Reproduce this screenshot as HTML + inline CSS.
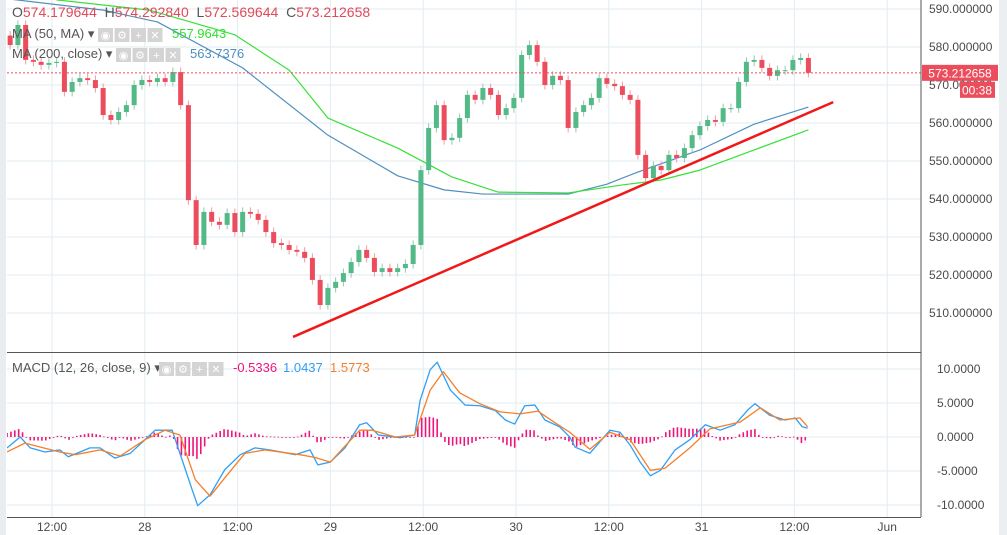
<!DOCTYPE html>
<html><head><meta charset="utf-8"><style>
html,body{margin:0;padding:0;background:#fff;width:1007px;height:535px;overflow:hidden;font-family:"Liberation Sans",sans-serif}
svg{display:block}
</style></head><body>
<svg id="c" width="1007" height="535" xmlns="http://www.w3.org/2000/svg"></svg>
<script>
// ---- data ----
const closes=[580.5,585.8,576.6,576.1,575.3,575.8,576.1,568.2,570.8,571.8,571.3,569.2,562.1,560.8,562.9,564.7,570,571.3,570.8,571.8,570.8,573.4,564.7,539.7,527.9,536.6,534,533.2,536.3,531.3,536.6,536.1,534.5,531.3,528.4,527.9,526.6,526.1,524.5,518.7,512.1,516.6,518.2,520.5,523.4,526.6,524.5,520.8,521.8,520.8,521.8,522.9,527.9,547.6,558.7,564.7,555.5,556.1,561.3,567.4,566.1,569.2,567.4,562.1,563.9,566.6,577.9,580.5,576.1,570,572.4,571.3,558.7,562.9,564.7,566.6,571.8,570.3,569.7,567.4,566.1,551.6,545.5,548.7,547.6,551.6,550.8,553.4,556.8,559.2,560.8,560.3,563.9,563.9,570.8,576.1,576.6,574.5,572.4,573.9,573.9,576.6,577.1,573.2];
const firstOpen=583.0;
const ma200H=[-5.4,6.6,13.6,24.6,35.6,44.6,50.6,55.6,66.6,71.6,75.6,83.6,90.6,97.6];
const ma200V=[592.6,589.7,586.6,574.5,556.8,546.1,542.4,541.3,541.3,543.9,547.1,552.9,559.7,564.2];
const ma50H=[-5.4,0.6,12.6,23.6,30.6,35.6,44.6,51.6,57.6,66.6,73.6,78.6,83.6,90.6,97.6];
const ma50V=[600.3,592.4,589.7,583.2,573.9,561.3,553.4,545.8,541.8,541.6,543.7,545,547.6,552.9,558.2];
const macdH=[-5.8,-4.1,-2.8,-0.9,1,2.1,4.9,6.2,8.1,10.1,12,13.3,15.5,16.8,18.1,18.8,20.4,22.3,24.3,26.2,28.1,31.4,33.3,34.3,35.9,37.8,39.7,40.6,42.1,44.9,46.8,47.5,48.8,49.7,51.4,53.3,55.2,57.2,58.5,59.7,61,62.3,63.6,65.5,66.8,67.5,69.4,72,73.3,74.6,75.9,77.2,78.5,80.4,82.3,84.3,86.2,88.1,89.8,90.7,92.6,94.6,95.9,96.8,97.5];
const macdV=[-1.6,0,-1.6,-2.2,-1.9,-2.9,-1.6,-1.6,-3.1,-2.4,-0.4,1,1,-3.4,-7.8,-10.1,-8.5,-4.8,-2.6,-1.6,-1.9,-2.6,-1.9,-4.1,-3.7,-1.6,1.8,2.1,0.3,-0.1,0.3,5.4,9.9,11,6.9,4.7,4.6,3.9,2.5,1.9,4.6,4.7,2.5,1.5,0,-1.5,-2.4,1,0.7,-1.2,-3.7,-5.7,-4.9,-1.9,-0.4,1.8,1,1.8,4,4.9,3.2,2.5,2.8,1.5,1.3];
const sigH=[-5.8,-3.5,1,3,6.2,8.8,12,14.6,16.5,18.5,20.4,22.3,24.9,27.5,32,33.9,35.9,39.7,41.3,44.3,46.8,48.8,50.5,52.6,55.2,57.8,60.4,62.7,64.9,66.8,69.4,72,74.6,77.2,79.1,82.3,84.9,88.8,91.4,93.9,96.5,97.5];
const sigV=[-2.2,-0.9,-2.2,-2.6,-1.9,-2.8,-0.4,1,0.3,-6.3,-8.7,-6,-2.4,-1.9,-2.6,-3,-3.7,1,1,0,0.3,6.9,9.6,6.5,4.9,3.7,3.4,3.8,2.1,0.7,-1.8,0.7,-0.4,-4.9,-4.6,-1.6,1.2,2.2,4.3,2.5,2.8,1.5];
const priceTicks=[590,580,570,560,550,540,530,520,510];
const macdTicks=[10,5,0,-5,-10];
const timeLabels=["12:00","28","12:00","29","12:00","30","12:00","31","12:00","Jun"];
const trendH=[31.1,100.8];
const trendV=[503.7,565.5];
// ---- scales ----
const xH=h=>52+h*7.75;
const yP=p=>47+(580-p)*3.8;
const yM=v=>437-v*6.8;
const NS="http://www.w3.org/2000/svg";
const svg=document.getElementById('c');
function el(t,a,p){const e=document.createElementNS(NS,t);for(const k in a)e.setAttribute(k,a[k]);(p||svg).appendChild(e);return e;}
const defs=el('defs',{});
const cp=el('clipPath',{id:'mainclip'},defs);el('rect',{x:7,y:0,width:914,height:352},cp);
const cp2=el('clipPath',{id:'macdclip'},defs);el('rect',{x:7,y:353,width:914,height:164},cp2);
const grid=el('g',{});


for(let i=0;i<timeLabels.length;i++){const x=52+i*92.8;el('line',{x1:x,y1:0,x2:x,y2:517,stroke:'#e1ecf2','stroke-width':1},grid);}
priceTicks.forEach(p=>el('line',{x1:7,y1:yP(p),x2:921,y2:yP(p),stroke:'#e1ecf2'},grid));
macdTicks.forEach(v=>el('line',{x1:7,y1:yM(v),x2:921,y2:yM(v),stroke:'#e1ecf2'},grid));
el('rect',{x:0,y:0,width:6,height:535,fill:'#e9edf1'});
el('rect',{x:999,y:0,width:8,height:535,fill:'#eceff2'});
const main=el('g',{'clip-path':'url(#mainclip)'});
function poly(H,V,ys,color,w,parent,name){const pts=H.map((h,i)=>xH(h)+','+ys(V[i])).join(' ');const p=el('polyline',{points:pts,fill:'none',stroke:color,'stroke-width':w,'stroke-linejoin':'round'},parent);return p;}
poly(ma200H,ma200V,yP,'#4f8fbf',1.2,main,'ma200-line');
poly(ma50H,ma50V,yP,'#38e038',1.2,main,'ma50-line');
const cg=el('g',{},main);


let o=firstOpen;
closes.forEach((c,i)=>{const x=xH(i-5.4);const up=c>=o;const col=up?'#53b987':'#eb4d5c';const hi=Math.max(o,c)+1.2,lo=Math.min(o,c)-1.2;
 el('line',{x1:x,y1:yP(hi),x2:x,y2:yP(lo),stroke:up?'#8fc9ae':'#f19aa3','stroke-width':1},cg);
 const top=yP(Math.max(o,c)),bot=yP(Math.min(o,c));
 const r=el('rect',{x:x-2.5,y:top,width:5,height:Math.max(1,bot-top),fill:col},cg);
 
 
 o=c;});
const tl=el('line',{x1:xH(trendH[0]),y1:yP(trendV[0]),x2:xH(trendH[1]),y2:yP(trendV[1]),stroke:'#f01818','stroke-width':2.5},main);


const last=closes[closes.length-1];
el('line',{x1:7,y1:yP(last),x2:921,y2:yP(last),stroke:'#eb4d5c','stroke-dasharray':'2,2'});
const mg=el('g',{'clip-path':'url(#macdclip)'});
function interp(H,V,h){if(h<=H[0])return V[0];for(let i=1;i<H.length;i++)if(h<=H[i]){const t=(h-H[i-1])/(H[i]-H[i-1]);return V[i-1]+t*(V[i]-V[i-1]);}return V[V.length-1];}
const hg=el('g',{},mg);


for(let h=-5.8;h<=97.6;h+=0.5){const d=(interp(macdH,macdV,h)-interp(sigH,sigV,h));const y0=yM(0),y1=yM(d);el('rect',{x:xH(h)-0.8,y:Math.min(y0,y1),width:1.6,height:Math.max(0.8,Math.abs(y1-y0)),fill:'#f0157a'},hg);}
poly(macdH,macdV,yM,'#2f9ff5',1.3,mg,'macd-line');
poly(sigH,sigV,yM,'#f57f2a',1.3,mg,'signal-line');
el('line',{x1:921,y1:0,x2:921,y2:517,stroke:'#555','stroke-width':1});
el('line',{x1:7,y1:352.5,x2:921,y2:352.5,stroke:'#555','stroke-width':1});
el('line',{x1:7,y1:517.5,x2:921,y2:517.5,stroke:'#555','stroke-width':1});
function txt(x,y,s,fill,size,anchor,name,parent){const t=el('text',{x:x,y:y,fill:fill,'font-size':size,'text-anchor':anchor||'start','font-family':'Liberation Sans, sans-serif'},parent);t.textContent=s;return t;}
priceTicks.forEach(p=>{txt(929,yP(p)+4,p.toFixed(6),'#4a4a4a',12,'start','price-tick-label');});
macdTicks.forEach(v=>{txt(937,yM(v)+4,v.toFixed(4),'#4a4a4a',12,'start','macd-tick-label');});
timeLabels.forEach((s,i)=>{txt(52+i*92.8,531,s,'#4a4a4a',12,'middle','time-tick-label');});
const b1=el('rect',{x:922,y:yP(last)-8,width:76,height:16,fill:'#eb4d5c'});

txt(960,yP(last)+4.5,'573.212658','#fff',12,'middle','last-price-value');
const b2=el('rect',{x:960,y:yP(last)+9,width:35,height:16,fill:'#eb4d5c'});

txt(977,yP(last)+21.5,'00:38','#fff',12,'middle','countdown-value');
function btns(x,y,name){const g=el('g',{});for(let i=0;i<4;i++)el('rect',{x:x+i*16.5,y:y,width:15,height:14,fill:'#d4d4d4'},g);const s=['◉','⚙','+','✕'];s.forEach((c,i)=>{const t=el('text',{x:x+i*16.5+7.5,y:y+11,fill:'#fff','font-size':11,'text-anchor':'middle'},g);t.textContent=c;});}
const lg=el('text',{x:12,y:17,'font-size':14,'font-family':'Liberation Sans, sans-serif'});

lg.setAttribute('style','white-space:pre');
[['O','#555'],['574.179644  ','#e04a5a'],['H','#555'],['574.292840  ','#e04a5a'],['L','#555'],['572.569644  ','#e04a5a'],['C','#555'],['573.212658','#e04a5a']].forEach(([s,f])=>{const ts=el('tspan',{fill:f},lg);ts.textContent=s;});
txt(12,38,'MA (50, MA) ▾','#555',13,'start','ma50-legend');btns(98,28,'ma50-legend-buttons');txt(172,38,'557.9643','#2ee02e',13,'start','ma50-value');
txt(12,58,'MA (200, close) ▾','#555',13,'start','ma200-legend');btns(116,48,'ma200-legend-buttons');txt(190,58,'563.7376','#4f8fbf',13,'start','ma200-value');
txt(12,372,'MACD (12, 26, close, 9) ▾','#555',13,'start','macd-legend');btns(159,362,'macd-legend-buttons');
txt(233,372,'-0.5336','#f0157a',13,'start','macd-hist-value');txt(283,372,'1.0437','#2f9ff5',13,'start','macd-value');txt(330,372,'1.5773','#f57f2a',13,'start','signal-value');
</script>
</body></html>
